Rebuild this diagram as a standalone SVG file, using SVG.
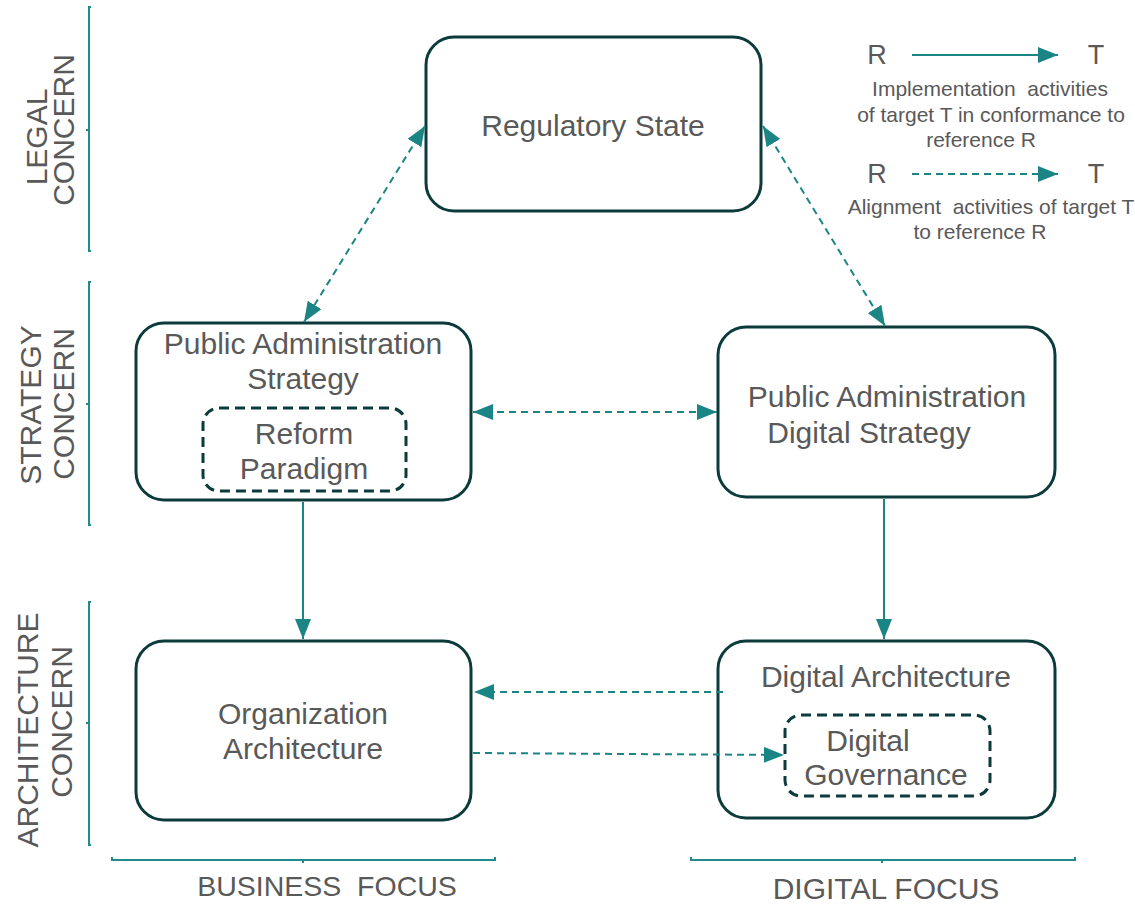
<svg xmlns="http://www.w3.org/2000/svg" width="1135" height="904" viewBox="0 0 1135 904">
<style>
.node{fill:#fff;stroke:#0d3b3c;stroke-width:3}
.inner{fill:none;stroke:#0d3b3c;stroke-width:3;stroke-dasharray:10 6}
.t{font-family:"Liberation Sans",Arial,sans-serif;fill:#595959;text-anchor:middle;dominant-baseline:central}
.n{font-size:30px}
.lg{font-size:21px}
.br{fill:none;stroke:#238a8c;stroke-width:2}
.c{fill:none;stroke:#1b8586;stroke-width:2}
.d{stroke-dasharray:7 5}
</style>
<defs>
<marker id="ah" viewBox="0 0 20 16" refX="20" refY="8" markerWidth="20" markerHeight="16" markerUnits="userSpaceOnUse" orient="auto-start-reverse">
<path d="M0,0 L20,8 L0,16 Z" fill="#1b8586"/>
</marker>
</defs>
<g id="brackets">
<path class="br" d="M91,7 H89 V251 H91 M89,130 H86"/>
<path class="br" d="M91,282 H89 V525 H91 M89,404 H86"/>
<path class="br" d="M91,602 H89 V845 H91 M89,723 H86"/>
<path class="br" d="M112,857 V860 H495 V857 M303,860 V863"/>
<path class="br" d="M691,857 V860 H1075 V857 M882,860 V863"/>
</g>
<g id="axis-labels">
<text class="t n" transform="translate(36,137) rotate(-90)">LEGAL</text>
<text class="t n" transform="translate(63,130) rotate(-90)">CONCERN</text>
<text class="t n" transform="translate(30,405) rotate(-90)">STRATEGY</text>
<text class="t n" transform="translate(63,404) rotate(-90)">CONCERN</text>
<text class="t n" transform="translate(27,730) rotate(-90)">ARCHITECTURE</text>
<text class="t n" transform="translate(61,722) rotate(-90)">CONCERN</text>
<text class="t" font-size="28.5" x="327" y="886" xml:space="preserve">BUSINESS  FOCUS</text>
<text class="t n" x="886" y="888">DIGITAL FOCUS</text>
</g>
<g id="legend">
<text class="t" x="877" y="55" font-size="27">R</text>
<line class="c" x1="912" y1="55" x2="1058" y2="55" marker-end="url(#ah)"/>
<text class="t" x="1096" y="55" font-size="27">T</text>
<text class="t lg" x="990" y="88" xml:space="preserve">Implementation  activities</text>
<text class="t lg" x="991" y="114">of target T in conformance to</text>
<text class="t lg" x="981" y="139">reference R</text>
<text class="t" x="877" y="174" font-size="27">R</text>
<line class="c d" x1="912" y1="174" x2="1058" y2="174" marker-end="url(#ah)"/>
<text class="t" x="1096" y="174" font-size="27">T</text>
<text class="t lg" x="991" y="206" xml:space="preserve">Alignment  activities of target T</text>
<text class="t lg" x="980" y="231">to reference R</text>
</g>
<g id="regulatory-state">
<rect class="node" x="426" y="37" width="335" height="174" rx="28"/>
<text class="t n" x="593" y="125">Regulatory State</text>
</g>
<g id="pa-strategy">
<rect class="node" x="136" y="323" width="335" height="177" rx="28"/>
<text class="t n" x="303" y="343">Public Administration</text>
<text class="t n" x="303" y="378">Strategy</text>
<g id="reform-paradigm">
<rect class="inner" x="203" y="408" width="203" height="83" rx="16"/>
<text class="t n" x="304" y="433">Reform</text>
<text class="t n" x="304" y="468">Paradigm</text>
</g>
</g>
<g id="pa-digital-strategy">
<rect class="node" x="718" y="327" width="337" height="170" rx="28"/>
<text class="t n" x="887" y="396">Public Administration</text>
<text class="t n" x="869" y="432">Digital Strategy</text>
</g>
<g id="organization-architecture">
<rect class="node" x="136" y="641" width="335" height="179" rx="28"/>
<text class="t n" x="303" y="713">Organization</text>
<text class="t n" x="303" y="748">Architecture</text>
</g>
<g id="digital-architecture">
<rect class="node" x="718" y="641" width="337" height="177" rx="28"/>
<text class="t n" x="886" y="676">Digital Architecture</text>
<g id="digital-governance">
<rect class="inner" x="785" y="715" width="205" height="81" rx="16"/>
<text class="t n" x="868" y="740">Digital</text>
<text class="t n" x="886" y="774">Governance</text>
</g>
</g>
<g id="connectors">
<line class="c d" x1="425" y1="126" x2="304" y2="322" marker-start="url(#ah)" marker-end="url(#ah)"/>
<line class="c d" x1="763" y1="126" x2="885" y2="326" marker-start="url(#ah)" marker-end="url(#ah)"/>
<line class="c d" x1="473" y1="412" x2="717" y2="412" marker-start="url(#ah)" marker-end="url(#ah)"/>
<line class="c" x1="303" y1="502" x2="303" y2="639" marker-end="url(#ah)"/>
<line class="c" x1="884" y1="499" x2="884" y2="639" marker-end="url(#ah)"/>
<line class="c d" x1="723" y1="692" x2="474" y2="692" marker-end="url(#ah)"/>
<line class="c d" x1="473" y1="753" x2="784" y2="755" marker-end="url(#ah)"/>
</g>
</svg>
